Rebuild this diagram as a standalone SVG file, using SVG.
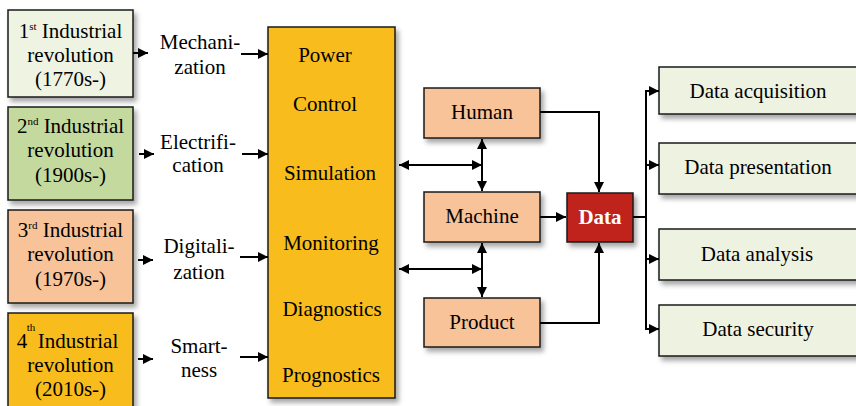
<svg xmlns="http://www.w3.org/2000/svg" width="856" height="406" viewBox="0 0 856 406">
<style>
text{font-family:"Liberation Serif","Times New Roman",serif;font-size:21px;fill:#000;text-anchor:middle}
.box{stroke:#1a1a1a;stroke-width:1.5;filter:url(#sh)}
.c{fill:none;stroke:#000;stroke-width:2}
sup,.sup{font-size:11px}
.data{fill:#fff;font-weight:bold}
</style>
<defs>
<filter id="sh" x="-10%" y="-10%" width="130%" height="140%">
<feDropShadow dx="3" dy="4" stdDeviation="2.5" flood-color="#000" flood-opacity="0.35"/>
</filter>
<marker id="ah" viewBox="0 0 10 10" refX="10" refY="5" markerWidth="5" markerHeight="5" orient="auto-start-reverse" markerUnits="strokeWidth">
<path d="M0,0 L10,5 L0,10 z" fill="#000"/>
</marker>
</defs>
<rect width="856" height="406" fill="#fff"/>

<g id="rev1">
<rect class="box" x="8" y="10" width="125" height="87" fill="#EFF3E2"/>
<text x="70.5" y="38">1<tspan class="sup" dy="-8">st</tspan><tspan dy="8"> Industrial</tspan></text>
<text x="70.5" y="62">revolution</text>
<text x="70.5" y="86">(1770s-)</text>
</g>
<g id="rev2">
<rect class="box" x="8" y="107" width="125" height="93" fill="#C4D99E"/>
<text x="70.5" y="133">2<tspan class="sup" dy="-8">nd</tspan><tspan dy="8"> Industrial</tspan></text>
<text x="70.5" y="157">revolution</text>
<text x="70.5" y="182">(1900s-)</text>
</g>
<g id="rev3">
<rect class="box" x="8" y="210" width="125" height="93" fill="#F8C398"/>
<text x="70.5" y="237">3<tspan class="sup" dy="-8">rd</tspan><tspan dy="8"> Industrial</tspan></text>
<text x="70.5" y="261">revolution</text>
<text x="70.5" y="286">(1970s-)</text>
</g>
<g id="rev4">
<rect class="box" x="8" y="313" width="125" height="100" fill="#F8BC1E"/>
<text x="22" y="348">4</text>
<text class="sup" x="31" y="331">th</text>
<text x="78" y="348">Industrial</text>
<text x="70.5" y="372">revolution</text>
<text x="70.5" y="396">(2010s-)</text>
</g>

<g id="labels">
<text x="200" y="49">Mechani-</text>
<text x="200" y="74">zation</text>
<text x="198" y="149">Electrifi-</text>
<text x="198" y="172">cation</text>
<text x="199" y="253">Digitali-</text>
<text x="199" y="279">zation</text>
<text x="199" y="353">Smart-</text>
<text x="199" y="377">ness</text>
</g>

<g id="functions">
<rect class="box" x="268" y="27" width="127" height="371" fill="#F8BC1E"/>
<text x="325" y="62">Power</text>
<text x="325" y="111">Control</text>
<text x="330" y="180">Simulation</text>
<text x="331" y="250">Monitoring</text>
<text x="332" y="316">Diagnostics</text>
<text x="331" y="382">Prognostics</text>
</g>

<g id="human">
<rect class="box" x="424" y="88" width="116" height="50" fill="#F8C398"/>
<text x="482" y="119">Human</text>
</g>
<g id="machine">
<rect class="box" x="424" y="192" width="116" height="50" fill="#F8C398"/>
<text x="482" y="223">Machine</text>
</g>
<g id="product">
<rect class="box" x="424" y="298" width="116" height="49" fill="#F8C398"/>
<text x="482" y="329">Product</text>
</g>
<g id="data">
<rect class="box" x="567" y="193" width="66" height="49" fill="#C0231A"/>
<text class="data" x="600" y="224">Data</text>
</g>

<g id="acq">
<rect class="box" x="659" y="67" width="205" height="47" fill="#EEF2E0"/>
<text x="758" y="98">Data acquisition</text>
</g>
<g id="pres">
<rect class="box" x="659" y="143" width="205" height="51" fill="#EEF2E0"/>
<text x="758" y="174">Data presentation</text>
</g>
<g id="anal">
<rect class="box" x="659" y="229" width="205" height="51" fill="#EEF2E0"/>
<text x="757" y="261">Data analysis</text>
</g>
<g id="sec">
<rect class="box" x="659" y="305" width="205" height="51" fill="#EEF2E0"/>
<text x="758" y="336">Data security</text>
</g>

<g id="connectors">
<line class="c" x1="133" y1="53" x2="148" y2="53" marker-end="url(#ah)"/>
<line class="c" x1="241" y1="54" x2="268" y2="54" marker-end="url(#ah)"/>
<line class="c" x1="139" y1="154" x2="154" y2="154" marker-end="url(#ah)"/>
<line class="c" x1="242" y1="154" x2="268" y2="154" marker-end="url(#ah)"/>
<line class="c" x1="138" y1="260" x2="153" y2="260" marker-end="url(#ah)"/>
<line class="c" x1="240" y1="257" x2="268" y2="257" marker-end="url(#ah)"/>
<line class="c" x1="138" y1="359" x2="153" y2="359" marker-end="url(#ah)"/>
<line class="c" x1="240" y1="357" x2="268" y2="357" marker-end="url(#ah)"/>

<line class="c" x1="482" y1="139" x2="482" y2="191" marker-start="url(#ah)" marker-end="url(#ah)"/>
<line class="c" x1="482" y1="243" x2="482" y2="297" marker-start="url(#ah)" marker-end="url(#ah)"/>
<line class="c" x1="399" y1="165" x2="482" y2="165" marker-start="url(#ah)" marker-end="url(#ah)"/>
<line class="c" x1="399" y1="269" x2="482" y2="269" marker-start="url(#ah)" marker-end="url(#ah)"/>

<polyline class="c" points="540,112 599,112 599,192" marker-end="url(#ah)"/>
<polyline class="c" points="540,323 599,323 599,243" marker-end="url(#ah)"/>
<line class="c" x1="540" y1="217" x2="566" y2="217" marker-end="url(#ah)"/>

<polyline class="c" points="633,217 646,217"/>
<line class="c" x1="646" y1="90" x2="646" y2="330"/>
<line class="c" x1="645" y1="91" x2="659" y2="91" marker-end="url(#ah)"/>
<line class="c" x1="645" y1="165" x2="659" y2="165" marker-end="url(#ah)"/>
<line class="c" x1="645" y1="259" x2="659" y2="259" marker-end="url(#ah)"/>
<line class="c" x1="645" y1="329" x2="659" y2="329" marker-end="url(#ah)"/>
</g>
</svg>
